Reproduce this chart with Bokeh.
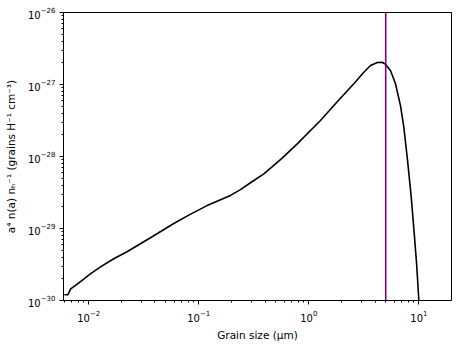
from bokeh.plotting import figure
from bokeh.models import FixedTicker, LogTickFormatter, Span, ColumnDataSource, Range1d
from bokeh.embed import file_html
from bokeh.resources import INLINE

# grain size (micron) and a^4 n(a)/n_H values
grain_size = [0.00601, 0.00646, 0.00686, 0.00759, 0.00871, 0.01035, 0.0126, 0.01687, 0.02188,
              0.0364, 0.0593, 0.0843, 0.1191, 0.1941, 0.2393, 0.302, 0.390, 0.556, 0.785,
              1.276, 1.811, 2.564, 3.162, 3.639, 4.188, 4.645, 4.977, 5.534, 6.138,
              6.823, 7.311, 7.889, 8.511, 9.078, 9.55, 10.0, 10.3]
a4_n = [1.2e-30, 1.2e-30, 1.45e-30, 1.62e-30, 1.91e-30, 2.34e-30, 2.88e-30, 3.80e-30, 4.68e-30,
        7.43e-30, 1.175e-29, 1.585e-29, 2.08e-29, 2.88e-29, 3.47e-29, 4.42e-29, 5.75e-29, 9.12e-29, 1.50e-28,
        3.16e-28, 5.75e-28, 1.023e-27, 1.479e-27, 1.837e-27, 2.023e-27, 2.04e-27, 1.905e-27, 1.549e-27, 1.023e-27,
        5.01e-28, 2.51e-28, 8.91e-29, 2.82e-29, 8.51e-30, 3.16e-30, 1.0e-30, 3.16e-31]
max_size = 5.0

x_major = [0.01, 0.1, 1.0, 10.0]
x_minor = [0.006, 0.007, 0.008, 0.009,
           0.02, 0.03, 0.04, 0.05, 0.06, 0.07, 0.08, 0.09,
           0.2, 0.3, 0.4, 0.5, 0.6, 0.7, 0.8, 0.9,
           2, 3, 4, 5, 6, 7, 8, 9, 20]
y_major = [1e-30, 1e-29, 1e-28, 1e-27, 1e-26]
y_minor = [m * 10.0 ** e for e in (-30, -29, -28, -27) for m in range(2, 10)]

x_lo, x_hi = 0.0059, 19.8
y_lo, y_hi = 1e-30, 1e-26

src = ColumnDataSource(dict(a=grain_size, n=a4_n))

p = figure(x_axis_type="log", y_axis_type="log",
           x_range=Range1d(x_lo, x_hi), y_range=Range1d(y_lo, y_hi),
           frame_width=388, frame_height=288,
           min_border_left=63, min_border_right=10, min_border_top=12, min_border_bottom=40,
           output_backend="svg", toolbar_location=None,
           background_fill_color="white", border_fill_color="white")

p.line("a", "n", source=src, line_color="black", line_width=1.6, line_join="round")
p.add_layout(Span(location=max_size, dimension="height", line_color="#800080", line_width=1.6))

for ax, maj, mnr in ((p.xaxis[0], x_major, x_minor), (p.yaxis[0], y_major, y_minor)):
    ax.ticker = FixedTicker(ticks=maj, minor_ticks=mnr)
    ax.formatter = LogTickFormatter()
    ax.major_tick_in = 0
    ax.major_tick_out = 4
    ax.minor_tick_in = 0
    ax.minor_tick_out = 2
    ax.axis_line_color = "black"
    ax.major_tick_line_color = "black"
    ax.minor_tick_line_color = "black"
    ax.major_label_text_font = "DejaVu Sans"
    ax.major_label_text_font_size = "10px"
    ax.major_label_text_color = "black"
    ax.axis_label_text_font = "DejaVu Sans"
    ax.axis_label_text_font_size = "10.5px"
    ax.axis_label_text_font_style = "normal"
    ax.axis_label_text_color = "black"

p.xaxis.axis_label = "Grain size (\u03bcm)"
p.yaxis.axis_label = "a\u2074 n(a) n\u2095\u207b\u00b9 (grains H\u207b\u00b9 cm\u207b\u00b3)"
p.xaxis.major_label_standoff = 5
p.yaxis.major_label_standoff = 4
p.xaxis.axis_label_standoff = 4
p.yaxis.axis_label_standoff = 8

p.grid.visible = False
p.outline_line_color = "black"
p.outline_line_width = 1

open("out.html", "w").write(file_html(p, INLINE))
